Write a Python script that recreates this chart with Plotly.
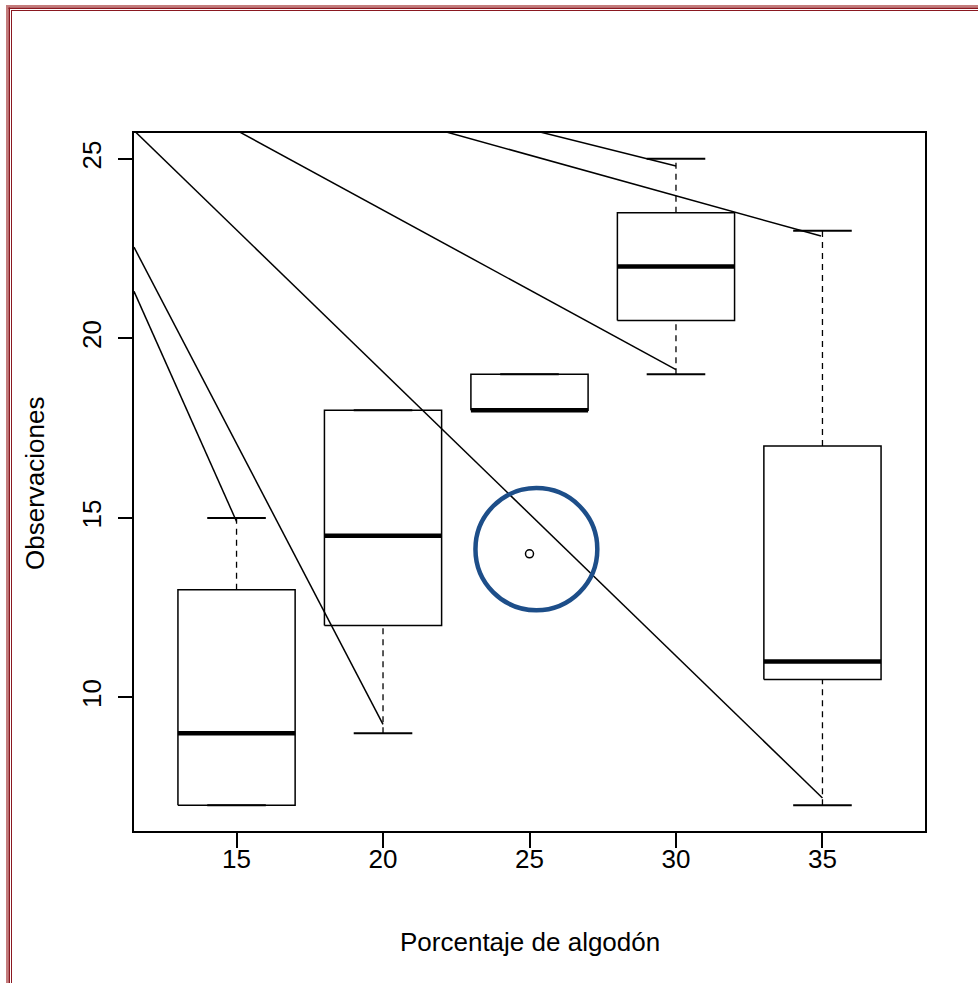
import plotly.graph_objects as go

# ---- data ----
categories = ["15", "20", "25", "30", "35"]
positions = [1, 2, 3, 4, 5]
lower_whisker = [7, 9, 18, 19, 7]
q1 = [7, 12, 18, 20.5, 10.5]
median = [9, 14.5, 18, 22, 11]
q3 = [13, 18, 19, 23.5, 17]
upper_whisker = [15, 18, 19, 25, 23]
outlier_x = [3]
outlier_y = [14]

# pointer lines (clipped by the plot area)
ptr_x0 = [0.31, 0.30, 0.30, 1.02, 3.07, 2.43]
ptr_y0 = [25.75, 22.54, 21.31, 25.75, 25.75, 25.75]
ptr_x1 = [5.0, 2.0, 1.0, 4.0, 4.0, 4.99]
ptr_y1 = [7.2, 9.25, 14.9, 19.13, 24.8, 22.85]

# highlight circle around the outlier
circle_cx, circle_cy = 3.047, 14.13
circle_rx, circle_ry = 0.416, 1.70

W, H = 978, 983
ML, MR, MT, MB = 134, 53, 133, 152
PW, PH = W - ML - MR, H - MT - MB

FONT = "Liberation Sans, Arial, Helvetica, sans-serif"
FS = 26
half_box = 0.4
half_cap = 0.2

fig = go.Figure()

# pointer lines
for a, b, c, d in zip(ptr_x0, ptr_y0, ptr_x1, ptr_y1):
    fig.add_trace(go.Scatter(x=[a, c], y=[b, d], mode="lines",
                             line=dict(color="black", width=1.5),
                             hoverinfo="skip", showlegend=False))

for p, lw, a, m, b, uw in zip(positions, lower_whisker, q1, median, q3, upper_whisker):
    # whiskers (dashed)
    fig.add_trace(go.Scatter(x=[p, p, None, p, p], y=[lw, a, None, b, uw], mode="lines",
                             line=dict(color="black", width=1.3, dash="6px,5px"),
                             hoverinfo="skip", showlegend=False))
    # caps
    fig.add_trace(go.Scatter(x=[p - half_cap, p + half_cap, None, p - half_cap, p + half_cap],
                             y=[lw, lw, None, uw, uw], mode="lines",
                             line=dict(color="black", width=2),
                             hoverinfo="skip", showlegend=False))
    # box
    fig.add_trace(go.Scatter(x=[p - half_box, p + half_box, p + half_box, p - half_box, p - half_box],
                             y=[a, a, b, b, a], mode="lines",
                             line=dict(color="black", width=1.5),
                             hoverinfo="skip", showlegend=False))
    # median
    fig.add_trace(go.Scatter(x=[p - half_box, p + half_box], y=[m, m], mode="lines",
                             line=dict(color="black", width=4.5),
                             hoverinfo="skip", showlegend=False))

# outlier
fig.add_trace(go.Scatter(x=outlier_x, y=outlier_y, mode="markers",
                         marker=dict(symbol="circle-open", size=8, color="black",
                                     line=dict(width=1.5)),
                         hoverinfo="skip", showlegend=False))

# blue circle
fig.add_shape(type="circle", xref="x", yref="y",
              x0=circle_cx - circle_rx, x1=circle_cx + circle_rx,
              y0=circle_cy - circle_ry, y1=circle_cy + circle_ry,
              line=dict(color="#1d4e89", width=4.5))


def px_x(v):
    return (v - ML) / PW


def px_y(v):
    return (H - MB - v) / PH


# document frame (left and top only)
frame = [
    dict(x0=6, x1=8.5, y0=5, y1=H + 5, col="#c47c7c"),
    dict(x0=6, x1=W + 5, y0=5, y1=7.5, col="#c47c7c"),
    dict(x0=8.5, x1=10, y0=7.5, y1=H + 5, col="#8a1820"),
    dict(x0=8.5, x1=W + 5, y0=7.5, y1=9, col="#8a1820"),
    dict(x0=11, x1=12, y0=10, y1=H + 5, col="#8a1820"),
    dict(x0=11, x1=W + 5, y0=10, y1=11, col="#8a1820"),
]
for f in frame:
    fig.add_shape(type="rect", xref="paper", yref="paper",
                  x0=px_x(f["x0"]), x1=px_x(f["x1"]),
                  y0=px_y(f["y1"]), y1=px_y(f["y0"]),
                  fillcolor=f["col"], line=dict(width=0), layer="above")

# axis titles
fig.add_annotation(text="Porcentaje de algodón", xref="paper", yref="paper",
                   x=px_x(530), y=px_y(942), xanchor="center", yanchor="middle",
                   showarrow=False, font=dict(family=FONT, size=FS, color="black"))
fig.add_annotation(text="Observaciones", xref="paper", yref="paper",
                   x=px_x(35), y=px_y(484), xanchor="center", yanchor="middle",
                   textangle=-90, showarrow=False,
                   font=dict(family=FONT, size=FS, color="black"))

fig.update_layout(
    width=W, height=H, autosize=False,
    margin=dict(l=ML, r=MR, t=MT, b=MB, pad=0),
    paper_bgcolor="white", plot_bgcolor="white",
    font=dict(family=FONT, size=FS, color="black"),
    showlegend=False,
)
fig.update_xaxes(range=[0.3, 5.7], tickmode="array", tickvals=positions, ticktext=categories,
                 showgrid=False, zeroline=False, showline=True, linecolor="black", linewidth=1.5,
                 mirror=True, ticks="outside", ticklen=15, tickwidth=1.5, tickcolor="black",
                 ticklabelstandoff=-11,
                 tickfont=dict(family=FONT, size=FS, color="black"))
fig.update_yaxes(range=[6.28, 25.72], tickmode="array", tickvals=[10, 15, 20, 25],
                 ticktext=["10", "15", "20", "25"], tickangle=-90,
                 showgrid=False, zeroline=False, showline=True, linecolor="black", linewidth=1.5,
                 mirror=True, ticks="outside", ticklen=14, tickwidth=1.5, tickcolor="black",
                 ticklabelstandoff=7,
                 tickfont=dict(family=FONT, size=FS, color="black"))

fig.write_html("out.html")
